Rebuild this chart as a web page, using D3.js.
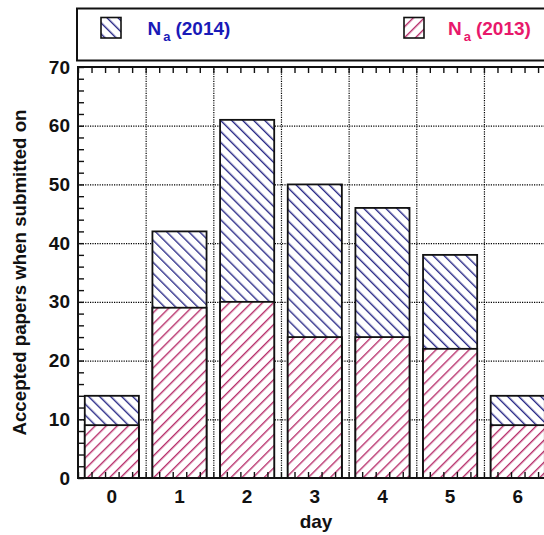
<!DOCTYPE html>
<html>
<head>
<meta charset="utf-8">
<script src="https://cdn.jsdelivr.net/npm/d3@7"></script>
<style>
  body { margin: 0; background: #fff; }
  text { font-family: "Liberation Sans", Arial, sans-serif; font-weight: bold; }
</style>
</head>
<body>
<div id="chart"></div>
<script>
// data
var days = [0, 1, 2, 3, 4, 5, 6];
var n2014 = [14, 42, 61, 50, 46, 38, 14];
var n2013 = [9, 29, 30, 24, 24, 22, 9];
var yMajor = [0, 10, 20, 30, 40, 50, 60, 70];

var W = 544, H = 535;
var margin = { top: 67, left: 78 };
var width = 473.6;   // plot runs past the right edge of the picture
var height = 411;

var blue = "#1a1ab8", pink = "#e8186b";

var svg = d3.select("#chart").append("svg")
  .attr("width", W).attr("height", H);

// hatch patterns
var defs = svg.append("defs");
function hatch(id, angle, color) {
  var p = defs.append("pattern")
    .attr("id", id)
    .attr("patternUnits", "userSpaceOnUse")
    .attr("width", 7.8).attr("height", 7.8)
    .attr("patternTransform", "rotate(" + angle + ")");
  p.append("rect").attr("width", 7.8).attr("height", 7.8).attr("fill", "#fff");
  p.append("line")
    .attr("x1", 0.7).attr("y1", 0).attr("x2", 0.7).attr("y2", 7.8)
    .attr("stroke", color).attr("stroke-width", 1.4);
}
hatch("h2014", -45, "#2b2b88");
hatch("h2013", 45, "#b8306c");

var g = svg.append("g")
  .attr("transform", "translate(" + margin.left + "," + margin.top + ")");

var x = d3.scaleBand().domain(days).range([0, width])
  .paddingInner(0.2).paddingOuter(0.1);
var xs = d3.scaleLinear().domain([0, days.length]).range([0, width]);
var y = d3.scaleLinear().domain([0, 70]).range([height, 0]);

// dotted grid
g.append("g").attr("class", "grid")
  .call(d3.axisLeft(y).tickValues([10, 20, 30, 40, 50, 60]).tickSize(-width).tickFormat(""));
g.append("g").attr("class", "grid")
  .attr("transform", "translate(0," + height + ")")
  .call(d3.axisBottom(xs).tickValues([1, 2, 3, 4, 5, 6]).tickSize(height).tickFormat(""));
g.selectAll(".grid .domain").remove();
g.selectAll(".grid line")
  .attr("stroke", "#000").attr("stroke-width", 1.2)
  .attr("stroke-dasharray", "1.2,1.2");
// axisBottom draws ticks downward; flip them up
g.selectAll(".grid line").filter(function () { return +d3.select(this).attr("y2") > 0; })
  .attr("y2", -height);

// bars: 2014 behind, 2013 in front
var bars = g.selectAll(".day").data(days).enter().append("g");
bars.append("rect")
  .attr("x", function (d) { return x(d); })
  .attr("y", function (d, i) { return y(n2014[i]); })
  .attr("width", x.bandwidth())
  .attr("height", function (d, i) { return height - y(n2014[i]); })
  .attr("fill", "url(#h2014)")
  .attr("stroke", "#111").attr("stroke-width", 1.8);
bars.append("rect")
  .attr("x", function (d) { return x(d); })
  .attr("y", function (d, i) { return y(n2013[i]); })
  .attr("width", x.bandwidth())
  .attr("height", function (d, i) { return height - y(n2013[i]); })
  .attr("fill", "url(#h2013)")
  .attr("stroke", "#111").attr("stroke-width", 1.8);

// minor ticks (inward)
var fifths = d3.range(0, 35).map(function (k) { return k / 5; });
g.append("g").attr("class", "minor")
  .call(d3.axisLeft(y).tickValues(d3.range(0, 71, 2)).tickSize(-6).tickFormat(""));
g.append("g").attr("class", "minor")
  .attr("transform", "translate(0," + height + ")")
  .call(d3.axisBottom(xs).tickValues(fifths).tickSize(-6).tickFormat(""));
g.append("g").attr("class", "minor")
  .call(d3.axisTop(xs).tickValues(fifths).tickSize(-6).tickFormat(""));
g.selectAll(".minor .domain").remove();
g.selectAll(".minor line").attr("stroke", "#111").attr("stroke-width", 1.4);

// frame
g.append("rect")
  .attr("width", width).attr("height", height)
  .attr("fill", "none").attr("stroke", "#111").attr("stroke-width", 2);

// tick labels
var yl = g.append("g")
  .call(d3.axisLeft(y).tickValues(yMajor).tickSize(0).tickPadding(8));
var xl = g.append("g")
  .attr("transform", "translate(0," + height + ")")
  .call(d3.axisBottom(x).tickSize(0).tickPadding(12));
yl.select(".domain").remove();
xl.select(".domain").remove();
svg.selectAll(".tick text")
  .attr("font-size", 19).attr("font-family", "Liberation Sans, Arial, sans-serif")
  .attr("font-weight", "bold").attr("fill", "#111");

// axis titles
svg.append("text")
  .attr("x", margin.left + (W + 10 - margin.left) / 2)
  .attr("y", 528)
  .attr("text-anchor", "middle").attr("font-size", 19).attr("fill", "#111")
  .text("day");
svg.append("text")
  .attr("transform", "translate(26," + (margin.top + height / 2) + ") rotate(-90)")
  .attr("text-anchor", "middle").attr("font-size", 18.7).attr("fill", "#111")
  .text("Accepted papers when submitted on");

// legend
var legend = svg.append("g");
legend.append("rect")
  .attr("x", 77).attr("y", 8.5).attr("width", 500).attr("height", 52)
  .attr("fill", "#fff").attr("stroke", "#111").attr("stroke-width", 2);
var items = [
  { year: "(2014)", fill: "url(#h2014)", color: blue, sx: 101, tx: 147.5 },
  { year: "(2013)", fill: "url(#h2013)", color: pink, sx: 404, tx: 448 }
];
items.forEach(function (it) {
  legend.append("rect")
    .attr("x", it.sx).attr("y", 17.5).attr("width", 20).attr("height", 20.5)
    .attr("fill", it.fill).attr("stroke", "#111").attr("stroke-width", 1.6);
  var t = legend.append("text")
    .attr("x", it.tx).attr("y", 35)
    .attr("font-size", 19).attr("fill", it.color);
  t.append("tspan").text("N");
  t.append("tspan").attr("font-size", 13).attr("dx", 2).attr("dy", 6).text("a");
  t.append("tspan").attr("dx", 5).attr("dy", -6).text(it.year);
});
</script>
</body>
</html>
